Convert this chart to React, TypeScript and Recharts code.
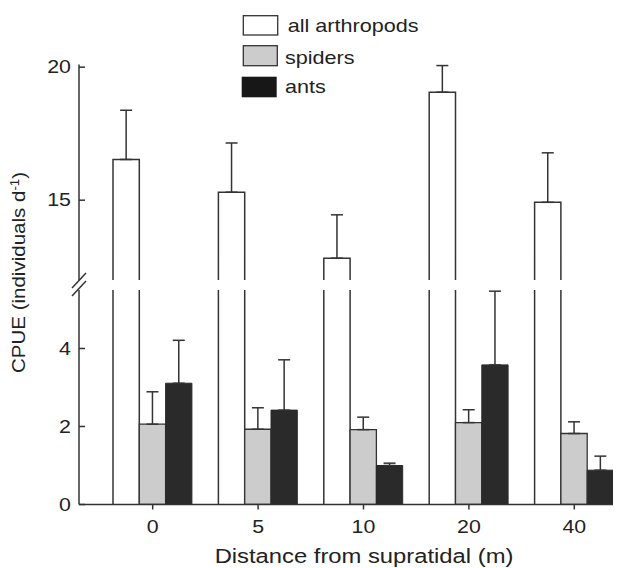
import React from 'react';
import { BarChart, Bar, XAxis, YAxis, ErrorBar } from 'recharts';

const distances = ['0', '5', '10', '20', '40'];
const allMean = [16.53, 15.3, 12.82, 19.06, 14.92];
const allErr = [1.85, 1.85, 1.63, 1.0, 1.86];
const spiderMean = [2.06, 1.93, 1.92, 2.1, 1.82];
const spiderErr = [0.83, 0.55, 0.32, 0.33, 0.3];
const antMean = [3.11, 2.42, 1.0, 3.58, 0.88];
const antErr = [1.1, 1.29, 0.06, 1.89, 0.36];
const upperTicks = [15, 20];
const lowerTicks = [0, 2, 4];
const legendLabels = ['all arthropods', 'spiders', 'ants'];

const rows = distances.map((d, i) => ({
  distance: d,
  all: allMean[i],
  allE: [0, allErr[i]],
  spiders: spiderMean[i],
  spidersE: [0, spiderErr[i]],
  ants: antMean[i],
  antsE: [0, antErr[i]],
}));

const INK = '#333';
const TXT = '#222';
const FONT = '"Liberation Sans", Arial, Helvetica, sans-serif';
const GREY = '#cbcccb';
const DARK = '#2a2a2a';
const SX = 1.22;

const YTick = (props: any) => {
  const { x, y, payload } = props;
  return (
    <g>
      <line x1={x + 8} x2={x + 14} y1={y} y2={y} stroke={INK} strokeWidth={1.5} />
      <text
        transform={`translate(${x},${y}) scale(${SX},1)`}
        textAnchor="end"
        dy="0.36em"
        fontSize={17.5}
        fill={TXT}
        fontFamily={FONT}
      >
        {payload.value}
      </text>
    </g>
  );
};

const XTick = (props: any) => {
  const { x, y, payload } = props;
  return (
    <text
      transform={`translate(${x},${y}) scale(${SX},1)`}
      textAnchor="middle"
      dy="0.71em"
      fontSize={17.5}
      fill={TXT}
      fontFamily={FONT}
    >
      {payload.value}
    </text>
  );
};

const UpperOpenBar = (p: any) => {
  const { x, y, width: w, height: h } = p;
  if (h == null || isNaN(h)) return <g />;
  return (
    <path
      d={`M${x},${y + h}L${x},${y}L${x + w},${y}L${x + w},${y + h}`}
      fill="#fff"
      stroke={INK}
      strokeWidth={1.5}
    />
  );
};

const LowerOpenBar = (p: any) => {
  const { x, y, width: w, height: h } = p;
  if (h == null || isNaN(h)) return <g />;
  return (
    <path
      d={`M${x},${y}L${x},${y + h}M${x + w},${y}L${x + w},${y + h}`}
      fill="none"
      stroke={INK}
      strokeWidth={1.5}
    />
  );
};

const Nothing = () => <g />;

const axisLineStyle = { stroke: INK, strokeWidth: 1.5 };

export default function App() {
  return (
    <div
      style={{
        position: 'relative',
        width: 613,
        height: 560,
        overflow: 'hidden',
        fontFamily: FONT,
      }}
    >
      <div style={{ position: 'absolute', left: 0, top: 0 }}>
        <BarChart
          width={619}
          height={560}
          data={rows}
          margin={{ top: 282, right: 0, bottom: 0, left: 0 }}
          barGap={0}
          barSize={26.3}
        >
          <XAxis
            dataKey="distance"
            height={63.5}
            padding={{ left: 21, right: 0 }}
            axisLine={axisLineStyle}
            tickLine={axisLineStyle}
            tickSize={5}
            tickMargin={11}
            tick={<XTick />}
            interval={0}
          />
          <YAxis
            type="number"
            width={71}
            domain={[0, 5.5]}
            ticks={lowerTicks}
            allowDataOverflow
            axisLine={axisLineStyle}
            tickLine={false}
            tickSize={0}
            tickMargin={8}
            tick={<YTick />}
          />
          <Bar dataKey="all" shape={LowerOpenBar} isAnimationActive={false} />
          <Bar dataKey="spiders" fill={GREY} stroke={INK} strokeWidth={1.3} isAnimationActive={false}>
            <ErrorBar dataKey="spidersE" width={6} stroke={INK} strokeWidth={1.5} direction="y" />
          </Bar>
          <Bar dataKey="ants" fill={DARK} stroke={DARK} strokeWidth={1} isAnimationActive={false}>
            <ErrorBar dataKey="antsE" width={6} stroke={INK} strokeWidth={1.5} direction="y" />
          </Bar>
        </BarChart>
      </div>
      <div style={{ position: 'absolute', left: 0, top: 0 }}>
        <BarChart
          width={619}
          height={272}
          data={rows}
          margin={{ top: 56.5, right: 0, bottom: 0, left: 0 }}
          barGap={0}
          barSize={26.3}
        >
          <XAxis dataKey="distance" hide padding={{ left: 21, right: 0 }} />
          <YAxis
            type="number"
            width={71}
            domain={[12, 20.1]}
            ticks={upperTicks}
            allowDataOverflow
            axisLine={axisLineStyle}
            tickLine={false}
            tickSize={0}
            tickMargin={8}
            tick={<YTick />}
          />
          <Bar dataKey="all" shape={UpperOpenBar} isAnimationActive={false}>
            <ErrorBar dataKey="allE" width={6} stroke={INK} strokeWidth={1.5} direction="y" />
          </Bar>
          <Bar dataKey="spiders" shape={Nothing} isAnimationActive={false} />
          <Bar dataKey="ants" shape={Nothing} isAnimationActive={false} />
        </BarChart>
      </div>
      <svg
        width={613}
        height={560}
        style={{ position: 'absolute', left: 0, top: 0, pointerEvents: 'none' }}
      >
        {/* axis break marks */}
        <line x1={64} y1={280} x2={78} y2={265} stroke={INK} strokeWidth={1.5} />
        <line x1={64} y1={288} x2={78} y2={273} stroke={INK} strokeWidth={1.5} />
        {/* legend */}
        <rect x={235.3} y={7.7} width={34.4} height={19.3} fill="#fff" stroke={INK} strokeWidth={1.3} />
        <rect x={235.3} y={37.7} width={34} height={20} fill={GREY} stroke={INK} strokeWidth={1.3} />
        <rect x={233.7} y={68.7} width={35} height={20.6} fill="#171717" />
        <text transform="translate(279.7,24.3) scale(1.2,1)" fontSize={18} fill={TXT} fontFamily={FONT}>
          {legendLabels[0]}
        </text>
        <text transform="translate(277,56) scale(1.2,1)" fontSize={18} fill={TXT} fontFamily={FONT}>
          {legendLabels[1]}
        </text>
        <text transform="translate(277,84.7) scale(1.2,1)" fontSize={18} fill={TXT} fontFamily={FONT}>
          {legendLabels[2]}
        </text>
        {/* axis titles */}
        <text
          transform="translate(356,555.3) scale(1.19,1)"
          textAnchor="middle"
          fontSize={20}
          fill={TXT}
          fontFamily={FONT}
        >
          Distance from supratidal (m)
        </text>
        <text
          transform="translate(17,264.5) rotate(-90) scale(1.11,1)"
          textAnchor="middle"
          fontSize={18.5}
          fill={TXT}
          fontFamily={FONT}
        >
          CPUE (individuals d
          <tspan dy={-6} fontSize={12}>-1</tspan>
          <tspan dy={6}>)</tspan>
        </text>
      </svg>
    </div>
  );
}
